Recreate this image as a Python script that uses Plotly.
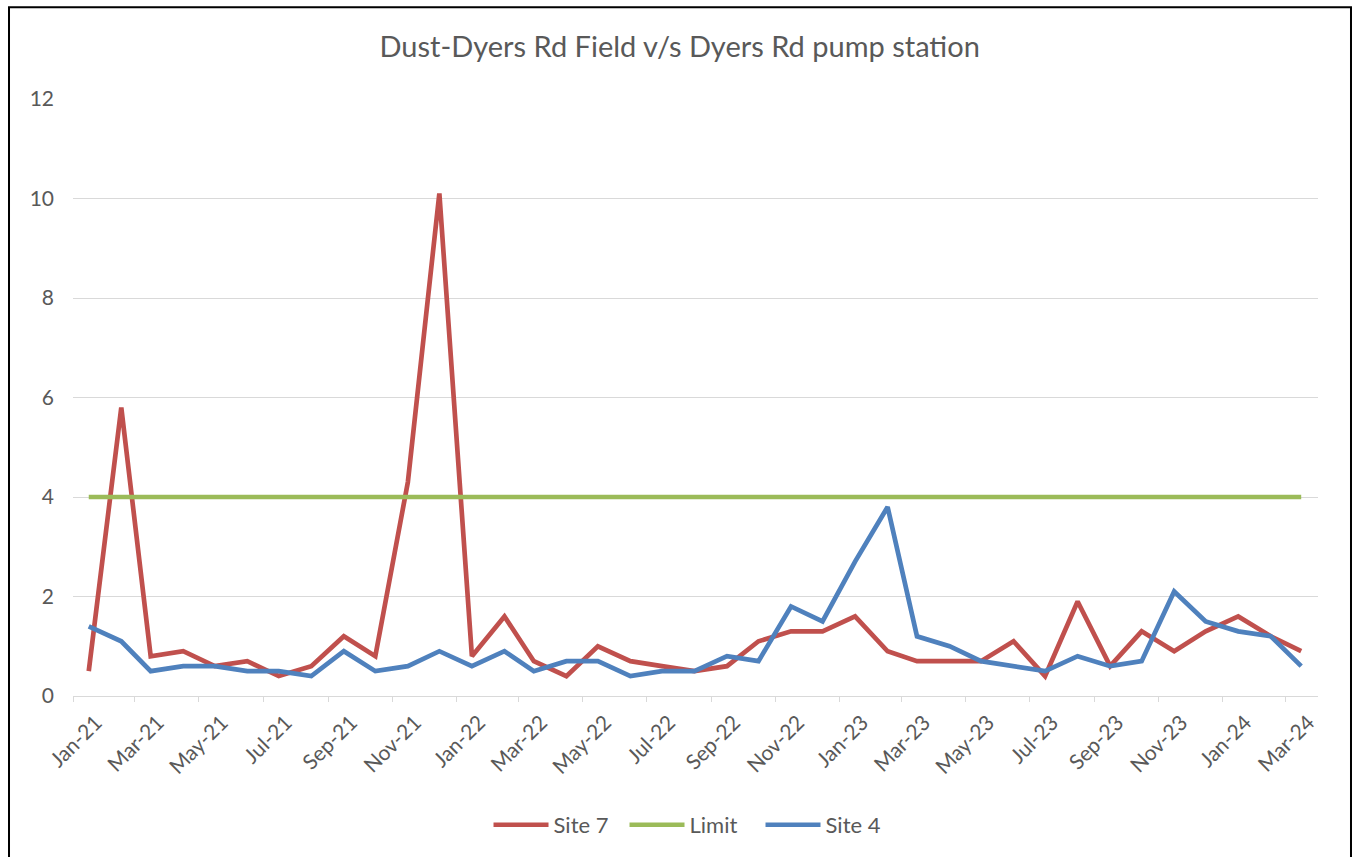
import plotly.graph_objects as go

dates = [
    "2021-01-16", "2021-02-16", "2021-03-16", "2021-04-16", "2021-05-16", "2021-06-16",
    "2021-07-16", "2021-08-16", "2021-09-16", "2021-10-16", "2021-11-16", "2021-12-16",
    "2022-01-16", "2022-02-16", "2022-03-16", "2022-04-16", "2022-05-16", "2022-06-16",
    "2022-07-16", "2022-08-16", "2022-09-16", "2022-10-16", "2022-11-16", "2022-12-16",
    "2023-01-16", "2023-02-16", "2023-03-16", "2023-04-16", "2023-05-16", "2023-06-16",
    "2023-07-16", "2023-08-16", "2023-09-16", "2023-10-16", "2023-11-16", "2023-12-16",
    "2024-01-16", "2024-02-16", "2024-03-16",
]

site7 = [0.5, 5.8, 0.8, 0.9, 0.6, 0.7, 0.4, 0.6, 1.2, 0.8, 4.3, 10.1,
         0.8, 1.6, 0.7, 0.4, 1.0, 0.7, 0.6, 0.5, 0.6, 1.1, 1.3, 1.3,
         1.6, 0.9, 0.7, 0.7, 0.7, 1.1, 0.4, 1.9, 0.6, 1.3, 0.9, 1.3,
         1.6, 1.2, 0.9]

limit = [4] * 39

site4 = [1.4, 1.1, 0.5, 0.6, 0.6, 0.5, 0.5, 0.4, 0.9, 0.5, 0.6, 0.9,
         0.6, 0.9, 0.5, 0.7, 0.7, 0.4, 0.5, 0.5, 0.8, 0.7, 1.8, 1.5,
         2.7, 3.8, 1.2, 1.0, 0.7, 0.6, 0.5, 0.8, 0.6, 0.7, 2.1, 1.5,
         1.3, 1.2, 0.6]

title_text = "Dust-Dyers Rd Field v/s Dyers Rd pump station"
font_family = "Lato, Carlito, 'Open Sans', sans-serif"
grey = "#595959"

fig = go.Figure()
fig.add_trace(go.Scatter(x=dates, y=site7, name="Site 7", mode="lines",
                         line=dict(color="#C0504D", width=4.7)))
fig.add_trace(go.Scatter(x=dates, y=limit, name="Limit", mode="lines",
                         line=dict(color="#9BBB59", width=4.7)))
fig.add_trace(go.Scatter(x=dates, y=site4, name="Site 4", mode="lines",
                         line=dict(color="#4F81BD", width=4.7)))

fig.update_layout(
    width=1354, height=857,
    margin=dict(l=73, r=36, t=99, b=160),
    paper_bgcolor="white", plot_bgcolor="white",
    font=dict(family=font_family, color=grey, size=21),
    title=dict(text=title_text, x=0.502, xref="container", y=1 - 47 / 857,
               yref="container", xanchor="center", yanchor="middle",
               font=dict(size=29, color=grey, family=font_family)),
    showlegend=True,
    legend=dict(orientation="h", x=0.4976, xanchor="center", y=-0.214,
                yanchor="middle", font=dict(size=22, color=grey),
                traceorder="normal", itemwidth=55,
                entrywidth=66, entrywidthmode="pixels"),
    xaxis=dict(
        type="date", range=["2021-01-01", "2024-04-01"],
        tick0="2021-01-01", dtick="M2", tickformat="%b-%y",
        tickangle=-45, ticks="outside", ticklen=5, tickcolor="#D9D9D9",
        showgrid=False, showline=True, linecolor="#D9D9D9", linewidth=1,
        tickfont=dict(size=21, color=grey), zeroline=False,
        ticklabelshift=23,
    ),
    yaxis=dict(
        range=[0, 12], dtick=2, showgrid=True, gridcolor="#D9D9D9",
        gridwidth=1, zeroline=False, showline=False, ticks="",
        tickfont=dict(size=21, color=grey), ticklabelstandoff=18,
    ),
    shapes=[dict(type="rect", xref="paper", yref="paper",
                 x0=-0.0514, x1=1.0265, y0=-0.35, y1=1.1538,
                 line=dict(color="black", width=2), fillcolor="rgba(0,0,0,0)",
                 layer="above")],
)

fig.write_html("out.html", config={"displayModeBar": False},
               post_script="document.body.style.margin='0';document.body.style.padding='0';")
